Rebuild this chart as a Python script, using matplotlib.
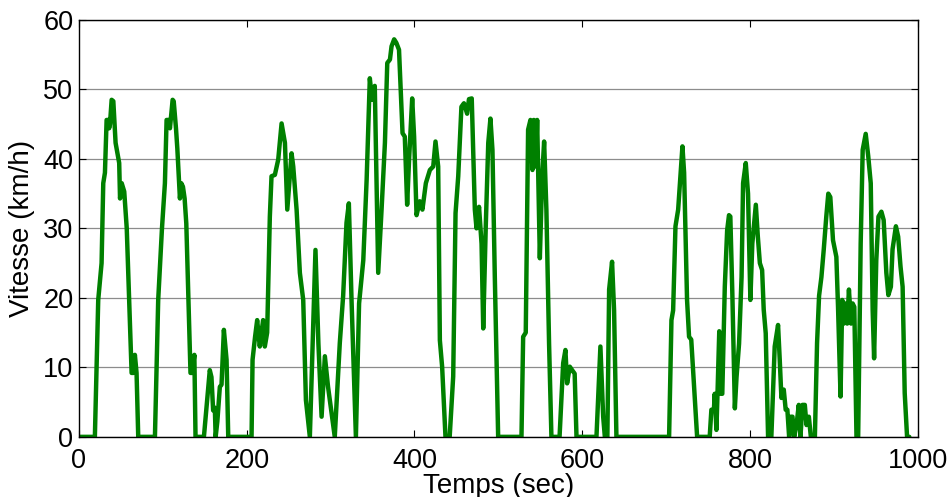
import matplotlib
matplotlib.use("Agg")
import matplotlib.pyplot as plt

# Cycle de conduite : temps (s) et vitesse (km/h)
temps = [0, 19, 23, 27, 29, 31, 33, 35, 36, 37, 39, 41, 43.7, 48, 49, 51, 54, 57,
         62.8, 65, 66.7, 68.7, 70.7, 90.6, 94.5, 99, 102.5, 104.5, 107, 108.5,
         111.7, 113, 115.7, 117.3, 120.4, 122, 124, 126, 128, 133, 135, 137.6, 139,
         149, 156, 158, 160, 162, 163, 165, 168, 170, 172.8, 176, 178, 205.8, 207,
         210, 212.5, 215.6, 217.6, 219.6, 221.6, 224.4, 227.6, 229.6, 233.6, 237.6,
         241.6, 245.6, 248.4, 253.5, 255.5, 259.5, 263.4, 267.4, 270.6, 275.3, 282,
         285.5, 289.3, 293.2, 297, 305, 311, 315, 319, 321.8, 325, 330.2, 334, 339,
         343, 346.8, 349.5, 352.7, 356.8, 360.8, 364.8, 367.6, 370.8, 372.7, 375.8,
         378.4, 381.6, 385.8, 388.5, 391.3, 393.6, 397.3, 399.6, 402.5, 406.4, 409.5,
         413.6, 418.4, 422.4, 425.1, 428.3, 430.3, 433, 437, 442, 446.2, 449, 452.2,
         456, 459, 462.8, 465, 468.3, 470, 472, 474, 477, 480, 482, 485, 488, 490.6,
         493, 495.8, 499.8, 527.6, 529.6, 532.7, 535.5, 538.3, 540.7, 542.3, 544.7,
         546.3, 549.5, 552.3, 554.6, 557.3, 560.5, 563.3, 573, 577.3, 580, 582, 585.2,
         588, 591, 593.2, 617, 621.7, 625, 627, 630, 632.1, 635.6, 638, 640.8, 703.6,
         706.4, 708.4, 711.2, 714.4, 719.5, 721.5, 723, 725, 727.4, 730, 732.7, 737,
         752, 754, 757, 758, 760, 761.3, 763.4, 765, 767, 770, 772.8, 775, 776.6, 779,
         782, 784, 787, 790, 791.8, 795, 797.7, 800.5, 802.8, 807, 809.4, 811.8,
         814.5, 816.4, 818.8, 821.6, 825.5, 829.5, 833.5, 835.5, 837.5, 840.3, 842.6,
         844.6, 846.7, 848.7, 850.7, 852.7, 855.5, 858.2, 860.2, 862.6, 865.4, 867.4,
         870.2, 872.6, 877.4, 880, 882.4, 885.2, 888, 891, 893.4, 895.8, 899, 903,
         905, 908, 910, 912, 914, 916, 918, 920.5, 922.4, 924.4, 927, 929, 932,
         934.4, 938, 941, 944, 946.3, 948, 950.6, 953.2, 956.7, 959.4, 962.6, 965,
         968, 970, 974, 976.7, 979.5, 982, 984.5, 987.3, 990]
vitesse = [0, 0, 19.7, 25, 36.5, 38, 45.6, 45.6, 44.4, 45, 48.5, 48.3, 42.3, 39.4,
           34.3, 36.5, 35.3, 30, 9.2, 9.2, 11.8, 9.2, 0, 0, 19.7, 30, 36.5, 45.6,
           45.6, 44.4, 48.5, 48.3, 44.4, 41.5, 34.3, 36.5, 36, 34.3, 30.7, 9.2, 9.2,
           11.8, 0, 0, 9.6, 8.6, 3.8, 4.2, 0, 2.2, 7.2, 7.5, 15.4, 11.1, 0, 0, 11.1,
           14.4, 16.8, 13, 15, 16.8, 13, 15, 31.7, 37.5, 37.7, 39.9, 45.1, 42.3,
           32.7, 40.8, 38.9, 32.7, 23.6, 19.7, 5.3, 0, 26.9, 13.4, 2.9, 11.6, 7.2,
           0, 13.5, 20.3, 30.8, 33.6, 19.7, 0, 19.2, 25.4, 37, 51.6, 48.5, 50.5,
           23.6, 32.7, 42.3, 53.8, 54.3, 56.2, 57.2, 56.7, 55.7, 43.7, 43.2, 33.4,
           39.9, 48.7, 43.2, 31.9, 33.9, 32.7, 36.5, 38.4, 38.9, 42.5, 38.9, 13.9,
           10.1, 0, 0, 8.7, 32.2, 37.5, 47.5, 48, 46.5, 48.6, 48.7, 41.3, 32.7, 30,
           33.1, 27.8, 15.6, 30.2, 42.3, 45.8, 41.3, 23.1, 0, 0, 14.4, 15, 44.2,
           45.6, 38.4, 45.6, 38.9, 45.6, 25.7, 37.5, 42.5, 32.7, 13.4, 0, 0, 10.6,
           12.5, 7.7, 10.1, 9.6, 9.1, 0, 0, 13, 2.9, 0, 0, 21.2, 25.2, 18.2, 0, 0,
           16.8, 18.2, 30.3, 32.7, 41.8, 38, 30, 19.7, 14.4, 14, 8.6, 0, 0, 3.9, 3.9,
           6.2, 1, 6.2, 15.2, 6.2, 6.2, 21.6, 29.7, 31.9, 31.7, 20.6, 4.1, 8.6, 13.4,
           23, 36.5, 39.4, 35, 19.7, 27.8, 33.4, 28.8, 25, 24, 18.3, 14.9, 0, 0, 13,
           16.1, 11.1, 5.6, 6.8, 3.9, 3.9, 0, 2.9, 2.9, 0, 1.7, 4.6, 0, 4.6, 4.6,
           1.7, 2.9, 0, 0, 13.5, 20.3, 23, 27, 31.7, 35, 34.5, 28.3, 25.9, 18.7, 5.8,
           19.7, 16.3, 19.2, 16.3, 21.2, 16.3, 19.2, 18.7, 0, 0, 27.8, 41.3, 43.6,
           40.4, 36.5, 18.2, 11.3, 25.4, 31.7, 32.4, 31.2, 23.6, 20.4, 21.6, 27,
           30.3, 28.8, 24.5, 21.6, 6.3, 0, 0]

x_ticks = [0, 200, 400, 600, 800, 1000]
y_ticks = [0, 10, 20, 30, 40, 50, 60]

plt.rcParams["font.family"] = ["Liberation Sans", "DejaVu Sans"]

fig = plt.figure(figsize=(9.51, 4.97), dpi=100)
ax = fig.add_axes([0.083, 0.121, 0.882, 0.839])

ax.plot(temps, vitesse, color="#008000", linewidth=3.2,
        solid_joinstyle="round", solid_capstyle="round", zorder=3)

ax.set_xlim(0, 1000)
ax.set_ylim(0, 60)
ax.set_xticks(x_ticks)
ax.set_yticks(y_ticks)
ax.yaxis.grid(True, color="#8c8c8c", linewidth=0.9)
ax.set_axisbelow(True)
ax.tick_params(direction="in", length=5, width=0.8, labelsize=19.5,
               top=True, right=True)
ax.tick_params(axis="x", pad=8)
ax.tick_params(axis="y", pad=4)
for s in ax.spines.values():
    s.set_linewidth(1.0)
    s.set_zorder(4)

ax.set_xlabel("Temps (sec)", fontsize=20, labelpad=-1)
ax.set_ylabel("Vitesse (km/h)", fontsize=20, labelpad=6)

fig.savefig("out.png", dpi=100)
